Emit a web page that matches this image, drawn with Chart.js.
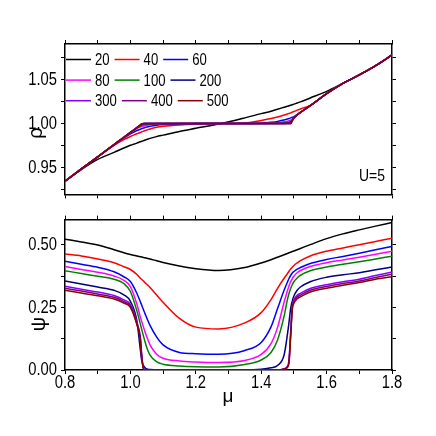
<!DOCTYPE html>
<html>
<head>
<meta charset="utf-8">
<script src="https://cdn.jsdelivr.net/npm/chart.js@4.4.1/dist/chart.umd.min.js"></script>
<style>
  html, body { margin: 0; padding: 0; background: #fff; }
  #wrap { position: relative; width: 436px; height: 436px; }
  #top { position: absolute; left: 0; top: 0; }
  #bot { position: absolute; left: 0; top: 207px; }
</style>
</head>
<body>
<div id="wrap">
  <canvas id="top" width="436" height="207"></canvas>
  <canvas id="bot" width="436" height="229"></canvas>
</div>
<script>
// chemical potential grid (x axis)
var mu = [0.8, 0.85, 0.9, 0.95, 0.98, 1.0, 1.02, 1.03, 1.035, 1.04, 1.045, 1.05, 1.06, 1.08, 1.1, 1.15, 1.2, 1.27,
          1.35, 1.4, 1.43, 1.45, 1.47, 1.48, 1.485, 1.49, 1.495, 1.5, 1.51, 1.52, 1.55, 1.6, 1.65, 1.7, 1.75, 1.8];

var seriesN = ["20", "40", "60", "80", "100", "200", "300", "400", "500"];

// density rho(mu), top panel
var rho20  = [0.935, 0.948, 0.9595, 0.9675, 0.9725, 0.9755, 0.978, 0.9795, 0.98, 0.9807, 0.9814, 0.982, 0.9833, 0.9853, 0.987, 0.9912, 0.9947, 0.9995,
              1.0065, 1.0113, 1.014, 1.0163, 1.0185, 1.0196, 1.0202, 1.0208, 1.0214, 1.022, 1.0233, 1.0246, 1.029, 1.0365, 1.0457, 1.0552, 1.0655, 1.0777];
var rho40  = [0.935, 0.9488, 0.9625, 0.9755, 0.982, 0.9855, 0.9885, 0.99, 0.9908, 0.9915, 0.9922, 0.9928, 0.994, 0.9958, 0.9969, 0.9985, 0.9994, 1.0,
              1.0008, 1.0035, 1.0058, 1.0075, 1.0097, 1.0108, 1.0115, 1.0122, 1.013, 1.0137, 1.0152, 1.0166, 1.0206, 1.0338, 1.0455, 1.055, 1.0655, 1.0777];
var rho60  = [0.935, 0.9488, 0.9625, 0.976, 0.9835, 0.9885, 0.9922, 0.9936, 0.9943, 0.995, 0.9956, 0.9962, 0.997, 0.9982, 0.9989, 0.9997, 1.0, 1.0,
              1.0, 1.0005, 1.0015, 1.0025, 1.0042, 1.0052, 1.0058, 1.0065, 1.0072, 1.008, 1.0103, 1.0128, 1.0203, 1.0338, 1.0455, 1.055, 1.0655, 1.0777];
var rho80  = [0.935, 0.9488, 0.9625, 0.9762, 0.984, 0.9895, 0.9945, 0.996, 0.9966, 0.9972, 0.9977, 0.9981, 0.9987, 0.9995, 0.9998, 1.0, 1.0, 1.0,
              1.0, 1.0, 1.0005, 1.001, 1.002, 1.0028, 1.0033, 1.004, 1.0052, 1.0068, 1.0098, 1.0126, 1.0203, 1.0338, 1.0455, 1.055, 1.0655, 1.0777];
var rho100 = [0.935, 0.9488, 0.9625, 0.9763, 0.9843, 0.9898, 0.995, 0.9972, 0.998, 0.9985, 0.999, 0.9993, 0.9997, 1.0, 1.0, 1.0, 1.0, 1.0,
              1.0, 1.0, 1.0, 1.0003, 1.001, 1.0016, 1.002, 1.0027, 1.0042, 1.0064, 1.0098, 1.0126, 1.0203, 1.0338, 1.0455, 1.055, 1.0655, 1.0777];
var rho200 = [0.935, 0.9488, 0.9625, 0.9763, 0.9846, 0.9901, 0.9955, 0.998, 0.9992, 0.9997, 1.0, 1.0, 1.0, 1.0, 1.0, 1.0, 1.0, 1.0,
              1.0, 1.0, 1.0, 1.0, 1.0, 1.0004, 1.0007, 1.0012, 1.0037, 1.0062, 1.0098, 1.0126, 1.0203, 1.0338, 1.0455, 1.055, 1.0655, 1.0777];
var rho300 = [0.935, 0.9488, 0.9625, 0.9763, 0.9846, 0.9901, 0.9956, 0.9982, 0.9995, 1.0, 1.0, 1.0, 1.0, 1.0, 1.0, 1.0, 1.0, 1.0,
              1.0, 1.0, 1.0, 1.0, 1.0, 1.0, 1.0, 1.0, 1.0033, 1.0062, 1.0098, 1.0126, 1.0203, 1.0338, 1.0455, 1.055, 1.0655, 1.0777];
var rho400 = [0.935, 0.9488, 0.9625, 0.9763, 0.9846, 0.9901, 0.9956, 0.9983, 0.9997, 1.0, 1.0, 1.0, 1.0, 1.0, 1.0, 1.0, 1.0, 1.0,
              1.0, 1.0, 1.0, 1.0, 1.0, 1.0, 1.0, 1.0, 1.0035, 1.0062, 1.0098, 1.0126, 1.0203, 1.0338, 1.0455, 1.055, 1.0655, 1.0777];
var rho500 = [0.935, 0.9488, 0.9625, 0.9763, 0.9846, 0.9901, 0.9956, 0.9983, 0.9998, 1.0, 1.0, 1.0, 1.0, 1.0, 1.0, 1.0, 1.0, 1.0,
              1.0, 1.0, 1.0, 1.0, 1.0, 1.0, 1.0, 1.0, 1.0036, 1.0062, 1.0098, 1.0126, 1.0203, 1.0338, 1.0455, 1.055, 1.0655, 1.0777];

// order parameter psi(mu), bottom panel
var psi20  = [0.522, 0.511, 0.499, 0.480, 0.468, 0.461, 0.455, 0.452, 0.4505, 0.449, 0.4475, 0.446, 0.443, 0.436, 0.429, 0.415, 0.404, 0.397,
              0.409, 0.427, 0.440, 0.450, 0.460, 0.465, 0.4675, 0.470, 0.4725, 0.475, 0.480, 0.485, 0.500, 0.524, 0.543, 0.559, 0.574, 0.588];
var psi40  = [0.463, 0.455, 0.443, 0.428, 0.412, 0.401, 0.381, 0.367, 0.361, 0.355, 0.348, 0.342, 0.329, 0.299, 0.270, 0.206, 0.171, 0.164,
              0.188, 0.229, 0.281, 0.326, 0.366, 0.384, 0.394, 0.403, 0.410, 0.417, 0.427, 0.436, 0.455, 0.474, 0.487, 0.500, 0.513, 0.526];
var psi60  = [0.434, 0.422, 0.410, 0.392, 0.372, 0.353, 0.305, 0.273, 0.257, 0.240, 0.224, 0.208, 0.178, 0.132, 0.100, 0.070, 0.065, 0.063,
              0.078, 0.110, 0.172, 0.245, 0.318, 0.350, 0.365, 0.377, 0.387, 0.393, 0.402, 0.409, 0.425, 0.441, 0.453, 0.466, 0.480, 0.493];
var psi80  = [0.413, 0.401, 0.390, 0.375, 0.358, 0.333, 0.262, 0.213, 0.192, 0.171, 0.151, 0.133, 0.100, 0.063, 0.047, 0.036, 0.032, 0.030,
              0.038, 0.062, 0.105, 0.170, 0.270, 0.315, 0.335, 0.352, 0.364, 0.374, 0.388, 0.397, 0.413, 0.428, 0.439, 0.450, 0.462, 0.474];
var psi100 = [0.396, 0.385, 0.374, 0.362, 0.345, 0.313, 0.235, 0.186, 0.160, 0.135, 0.112, 0.090, 0.059, 0.033, 0.023, 0.016, 0.013, 0.012,
              0.022, 0.040, 0.070, 0.120, 0.215, 0.280, 0.305, 0.325, 0.340, 0.352, 0.367, 0.378, 0.396, 0.411, 0.422, 0.432, 0.443, 0.454];
var psi200 = [0.355, 0.343, 0.331, 0.318, 0.300, 0.274, 0.195, 0.085, 0.035, 0.018, 0.009, 0.004, 0.002, 0, 0, 0, 0, 0,
              0, 0.003, 0.009, 0.018, 0.060, 0.140, 0.190, 0.245, 0.275, 0.295, 0.318, 0.331, 0.352, 0.370, 0.380, 0.388, 0.400, 0.411];
var psi300 = [0.334, 0.322, 0.311, 0.297, 0.280, 0.262, 0.190, 0.135, 0.055, 0.008, 0.002, 0, 0, 0, 0, 0, 0, 0,
              0, 0, 0, 0, 0.005, 0.015, 0.040, 0.150, 0.255, 0.280, 0.298, 0.306, 0.325, 0.340, 0.352, 0.362, 0.377, 0.391];
var psi400 = [0.326, 0.315, 0.303, 0.290, 0.273, 0.256, 0.185, 0.130, 0.050, 0.006, 0.001, 0, 0, 0, 0, 0, 0, 0,
              0, 0, 0, 0, 0.004, 0.012, 0.033, 0.140, 0.248, 0.273, 0.291, 0.299, 0.318, 0.333, 0.345, 0.355, 0.369, 0.382];
var psi500 = [0.318, 0.307, 0.296, 0.283, 0.267, 0.250, 0.180, 0.125, 0.045, 0.004, 0, 0, 0, 0, 0, 0, 0, 0,
              0, 0, 0, 0, 0.003, 0.010, 0.028, 0.130, 0.240, 0.266, 0.284, 0.292, 0.311, 0.326, 0.338, 0.349, 0.362, 0.372];

var colores = ["#000000", "#ff0000", "#0000ff", "#ff00ff", "#008000", "#000080", "#8800ff", "#800080", "#8b0000"];

var FONT = "'Liberation Sans', Arial, sans-serif";
var NARROW = 0.82; // horizontal squeeze, the original uses a condensed face

function isMult(v, step) {
    var r = v / step;
    return Math.abs(r - Math.round(r)) < 1e-6;
}

function makeSets(arrs) {
    return arrs.map(function (a, i) {
        return {
            label: seriesN[i],
            data: mu.map(function (m, j) { return { x: m, y: a[j] }; }),
            borderColor: colores[i],
            backgroundColor: colores[i],
            borderWidth: 1.5,
            pointRadius: 0,
            cubicInterpolationMode: "monotone",
            fill: false,
            order: arrs.length - i,
        };
    });
}

// tick marks come from chart.js; the label text is drawn by tickText below
function axis(pos, min, max, step, size) {
    var horiz = pos === "top" || pos === "bottom";
    return {
        type: "linear",
        position: pos,
        min: min,
        max: max,
        afterFit: function (s) {
            if (horiz) s.height = size; else s.width = size;
        },
        border: { display: true, color: "#000", width: 1.5 },
        grid: { drawOnChartArea: false, drawTicks: true, tickLength: 4, color: "#000", lineWidth: 1 },
        ticks: {
            stepSize: step,
            includeBounds: false,
            autoSkip: false,
            maxRotation: 0,
            color: "#000",
            font: { family: FONT, size: 16 },
            callback: function () { return ""; },
        },
    };
}

function narrowText(ctx, txt, x, y, size, align, base) {
    ctx.save();
    ctx.translate(x, y);
    ctx.scale(NARROW, 1);
    ctx.font = size + "px " + FONT;
    ctx.fillStyle = "#000";
    ctx.textAlign = align;
    ctx.textBaseline = base;
    ctx.fillText(txt, 0, 0);
    ctx.restore();
}

// tick labels in a condensed look, placed with the scales' own pixel mapping
function tickText(fmtX, fmtY) {
    return {
        id: "tickText",
        afterDraw: function (chart) {
            var ctx = chart.ctx;
            if (fmtX) {
                var sx = chart.scales.x;
                sx.ticks.forEach(function (t) {
                    var s = fmtX(t.value);
                    if (s) narrowText(ctx, s, sx.getPixelForValue(t.value), sx.top + 13.5, 18, "center", "middle");
                });
            }
            var sy = chart.scales.y;
            sy.ticks.forEach(function (t) {
                var s = fmtY(t.value);
                if (s) narrowText(ctx, s, sy.right - 8, sy.getPixelForValue(t.value) + 0.5, 18, "right", "middle");
            });
        },
    };
}

// free text (axis symbols, U=5)
function notes(items) {
    return {
        id: "notes",
        afterDraw: function (chart) {
            var ctx = chart.ctx;
            items.forEach(function (it) {
                if (it.narrow) {
                    narrowText(ctx, it.text, it.x, it.y, it.size, "center", "middle");
                    return;
                }
                ctx.save();
                ctx.translate(it.x, it.y);
                ctx.rotate(it.rot || 0);
                ctx.font = it.size + "px " + FONT;
                ctx.fillStyle = "#000";
                ctx.textAlign = "center";
                ctx.textBaseline = "middle";
                ctx.fillText(it.text, 0, 0);
                ctx.restore();
            });
        },
    };
}

// legend inside the top panel, 3 per row
var legendBox = {
    id: "legendBox",
    afterDraw: function (chart) {
        var ctx = chart.ctx;
        var size = 16;
        var x = 66;
        chart.data.datasets.forEach(function (ds, i) {
            var row = Math.floor(i / 3);
            if (i % 3 === 0) x = 66;
            var y = 59.5 + row * 20.6;
            ctx.save();
            ctx.strokeStyle = ds.borderColor;
            ctx.lineWidth = 1.5;
            ctx.beginPath();
            ctx.moveTo(x, y);
            ctx.lineTo(x + 25, y);
            ctx.stroke();
            ctx.font = size + "px " + FONT;
            var w = ctx.measureText(ds.label).width * NARROW;
            ctx.restore();
            narrowText(ctx, ds.label, x + 29, y + 1, size, "left", "middle");
            x += 29 + w + 5;
        });
    },
};

var chart_rho = new Chart(document.getElementById("top"), {
    type: "line",
    data: { datasets: makeSets([rho20, rho40, rho60, rho80, rho100, rho200, rho300, rho400, rho500]) },
    options: {
        responsive: false,
        animation: false,
        layout: { padding: 0 },
        plugins: { legend: { display: false }, tooltip: { enabled: false } },
        scales: {
            x: axis("bottom", 0.8, 1.8, 0.1, 11),
            x2: axis("top", 0.8, 1.8, 0.1, 44),
            y: axis("left", 0.92, 1.09, 0.025, 65),
            y2: axis("right", 0.92, 1.09, 0.025, 44),
        },
    },
    plugins: [legendBox, tickText(null, function (v) { return isMult(v, 0.05) ? v.toFixed(2) : ""; }), notes([
        { text: "ρ", x: 36, y: 133, rot: -Math.PI / 2, size: 20 },
        { text: "U=5", x: 372, y: 176, size: 17, narrow: true },
    ])],
});

var chart_psi = new Chart(document.getElementById("bot"), {
    type: "line",
    data: { datasets: makeSets([psi20, psi40, psi60, psi80, psi100, psi200, psi300, psi400, psi500]) },
    options: {
        responsive: false,
        animation: false,
        layout: { padding: 0 },
        plugins: { legend: { display: false }, tooltip: { enabled: false } },
        scales: {
            x: axis("bottom", 0.8, 1.8, 0.1, 66),
            x2: axis("top", 0.8, 1.8, 0.1, 11),
            y: axis("left", 0, 0.6, 0.125, 65),
            y2: axis("right", 0, 0.6, 0.125, 44),
        },
    },
    plugins: [
        tickText(function (v) { return isMult(v, 0.2) ? v.toFixed(1) : ""; },
                 function (v) { return isMult(v, 0.25) ? v.toFixed(2) : ""; }),
        notes([
            { text: "ψ", x: 39, y: 117, rot: -Math.PI / 2, size: 20 },
            { text: "μ", x: 228, y: 190, size: 19 },
        ]),
    ],
});
</script>
</body>
</html>
